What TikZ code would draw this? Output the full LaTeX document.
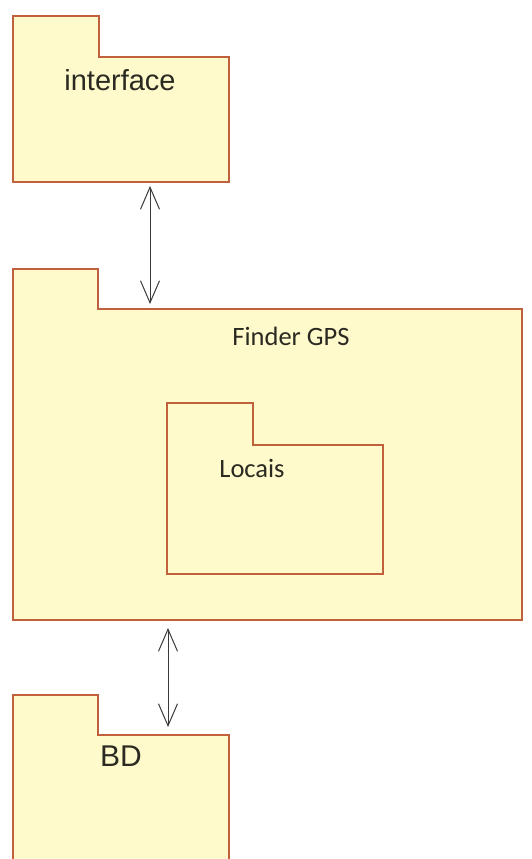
\documentclass[tikz,border=0pt]{standalone}
\usepackage{fontspec}
\setmainfont{Liberation Sans}
\newfontfamily\pkcalib{Carlito}
\usepackage{xcolor}
\usepackage{tikz}
\usetikzlibrary{positioning,arrows.meta,calc}
\definecolor{pkLine}{HTML}{C0603C}
\definecolor{pkFill}{HTML}{FFFACB}
\definecolor{pkText}{HTML}{2A2A22}
\definecolor{pkArrow}{HTML}{3A3A3A}
\definecolor{pkWhite}{HTML}{FFFFFF}
\tikzset{
  pk-body/.style={rectangle, inner sep=0pt, outer sep=0pt, draw=none},
  pk-line/.style={draw=pkLine, fill=pkFill, line width=1.5pt, line join=miter},
  pk-name/.style={inner sep=0pt, text=pkText,
    font=\fontsize{29}{31}\selectfont},
  pk-name-c/.style={inner sep=0pt, text=pkText,
    font=\pkcalib\fontsize{26.5}{29}\selectfont},
  pkbarb/.tip={Straight Barb[length=22pt, width=19pt, line width=1pt]},
  pk-flow/.style={pkbarb-pkbarb, line width=1pt, draw=pkArrow}
}
% package outline: node, tab width, tab height
\newcommand{\pktab}[3]{%
  \draw[pk-line] (#1.south west) -- ([yshift=#3]#1.north west) -- ++(#2,0)
    |- (#1.north east) -- (#1.south east) -- cycle;}

\begin{document}
\begin{tikzpicture}[x=1pt, y=-1pt]
\useasboundingbox (0,0) rectangle (531,859);
\fill[pkWhite] (0,0) rectangle (531,859);
\clip (0,0) rectangle (531,859);

\node[pk-body, minimum width=216, minimum height=125, anchor=north west]
  (iface) at (13,57) {};
\pktab{iface}{86}{41pt}
\node[pk-name] (ifaceN) at ([xshift=-1pt, yshift=-23pt]iface.north) {interface};

\node[pk-body, minimum width=509, minimum height=311,
  below right=127pt and 0pt of iface.south west] (finder) {};
\pktab{finder}{85}{40pt}
\node[pk-name-c] (finderN) at ([xshift=23.5pt, yshift=-27pt]finder.north)
  {Finder GPS};

\node[pk-body, minimum width=216, minimum height=129,
  below right=136pt and 154pt of finder.north west] (locais) {};
\pktab{locais}{86}{42pt}
\node[pk-name-c] (locaisN) at ([xshift=-23pt, yshift=-23pt]locais.north)
  {Locais};

\node[pk-body, minimum width=216, minimum height=130,
  below right=115pt and 0pt of finder.south west] (bd) {};
\pktab{bd}{85}{40pt}
\node[pk-name, font=\fontsize{30}{32}\selectfont] (bdN)
  at ([yshift=-21pt]bd.north) {BD};

\draw[pk-flow, shorten <=4pt, shorten >=5pt] ([xshift=29pt]iface.south)
  -- ([xshift=29pt]iface.south |- finder.north);
\draw[pk-flow, shorten <=8pt, shorten >=8pt] ([xshift=47pt]bd.north |- finder.south)
  -- ([xshift=47pt]bd.north);
\end{tikzpicture}
\end{document}
